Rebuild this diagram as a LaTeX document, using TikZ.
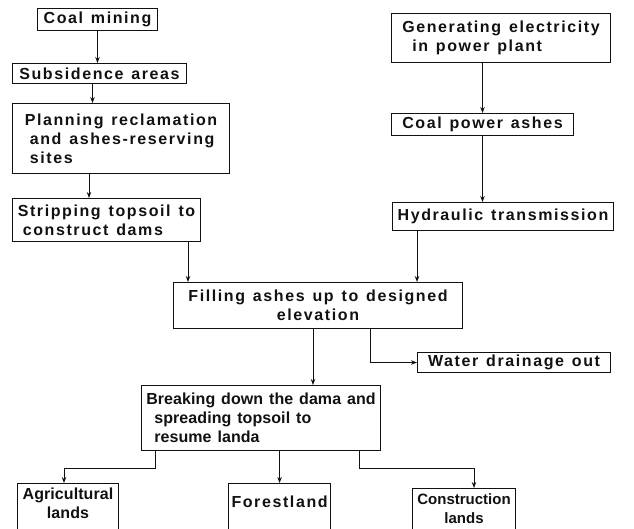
\documentclass[tikz,border=0pt]{standalone}
\usepackage{fontspec}
\usepackage{xcolor}
\usetikzlibrary{arrows.meta}
\newfontfamily\flowfont{Liberation Sans}[UprightFont=* Bold,LetterSpace=10,WordSpace=1.3]
\definecolor{ink}{HTML}{111111}
\tikzset{blk/.style={draw=ink, line width=1pt, inner xsep=3pt, inner ysep=2pt, anchor=north west, align=left, text=ink, font=\flowfont\fontsize{16}{19}\selectfont}, ctr/.style={blk, align=center}, tight/.style={font=\flowfont\fontsize{16}{19}\selectfont\addfontfeature{LetterSpace=0.5}}, link/.style={-{Stealth[length=6pt,width=4.5pt]}, line width=1pt, color=ink}}

\begin{document}
\begin{tikzpicture}[x=1pt,y=-1pt]
\path[use as bounding box, clip] (0,0) rectangle (634,529);
\node[blk, minimum width=120pt, minimum height=22pt] (mine) at (37,8) {Coal mining};
\node[blk, minimum width=174pt, minimum height=20pt] (subs) at (12,63) {Subsidence areas};
\node[blk, minimum width=217pt, minimum height=70pt] (plan) at (12,103) {Planning reclamation\\\hspace*{5pt}and ashes-reserving\\\hspace*{5pt}sites};
\node[blk, minimum width=188pt, minimum height=43pt] (strip) at (12,198) {Stripping topsoil to\\\hspace*{5pt}construct dams};
\node[blk, minimum width=219pt, minimum height=49pt] (gen) at (391,13) {Generating electricity\\\hspace*{10pt}in power plant};
\node[blk, minimum width=182pt, minimum height=22pt] (ash) at (391,113) {Coal power ashes};
\node[blk, minimum width=221pt, minimum height=28pt] (hyd) at (392,202) {Hydraulic transmission};
\node[ctr, minimum width=289pt, minimum height=46pt] (fill) at (173,282) {Filling ashes up to designed\\elevation};
\node[blk, minimum width=193pt, minimum height=20pt] (drain) at (417,352) {Water drainage out};
\node[blk, tight, minimum width=239pt, minimum height=65pt] (brk) at (141,385) {Breaking down the dama and\\\hspace*{8pt}spreading topsoil to\\\hspace*{8pt}resume landa};
\node[ctr, tight, minimum width=101pt, text height=33pt, text depth=27pt] (agr) at (17,483) {Agricultural\\lands};
\node[ctr, minimum width=100pt, text height=22pt, text depth=38pt] (for) at (228,483) {Forestland};
\node[ctr, tight, font=\flowfont\fontsize{15}{19}\selectfont\addfontfeature{LetterSpace=0}, minimum width=103pt, text height=33pt, text depth=27pt] (con) at (412,488) {Construction\\lands};
\draw[link] (mine) -- (mine |- subs.north);
\draw[link] ([xshift=-7pt]subs.south) -- ([xshift=-7pt]subs.south |- plan.north);
\draw[link] ([xshift=-32pt]plan.south) -- ([xshift=-32pt]plan.south |- strip.north);
\draw[link] ([xshift=-13pt]strip.south east) -- ([xshift=-13pt]strip.south east |- fill.north);
\draw[link] (gen.south -| ash.north) -- (ash.north);
\draw[link] (ash) -- (ash |- hyd.north);
\draw[link] ([xshift=25pt]hyd.south west) -- ([xshift=25pt]hyd.south west |- fill.north);
\draw[link] ([xshift=-5pt]fill.south) -- ([xshift=-5pt]fill.south |- brk.north);
\draw[link] ([xshift=52pt]fill.south) |- (drain);
\draw[link] ([xshift=14pt]brk.south west) -- ++(0,17) -| ([xshift=-4pt]agr.north);
\draw[link] (brk.south -| for.north) -- (for.north);
\draw[link] ([xshift=-22pt]brk.south east) -- ++(0,17) -| ([xshift=10pt]con.north);
\end{tikzpicture}
\end{document}
